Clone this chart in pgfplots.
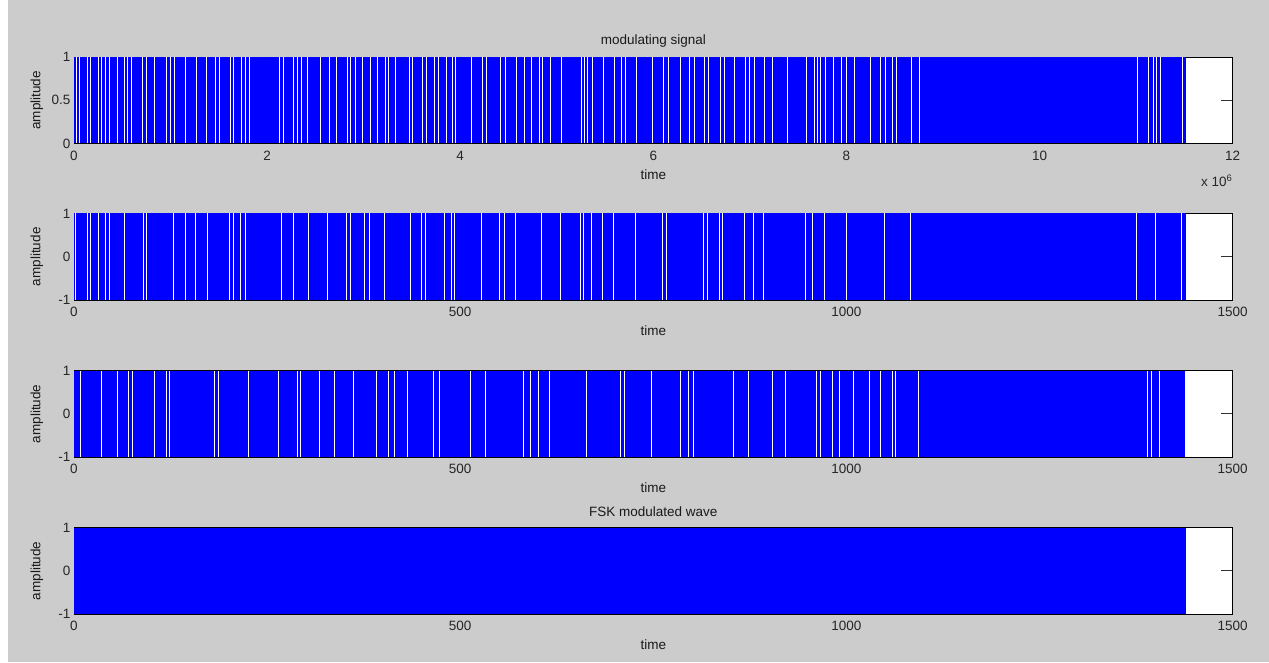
\documentclass[border=0pt]{standalone}
\usepackage{fontspec}
\setmainfont{Liberation Sans}
\usepackage{pgfplots}
\usepackage{pgfplotstable}
\pgfplotsset{compat=1.18}
\definecolor{figbg}{RGB}{204,204,204}
\definecolor{mblue}{RGB}{0,0,255}

\pgfplotstableread{
x hi
0.028 1
0.062 1
0.138 1
0.173 1
0.253 1
0.287 1
0.329 1
0.367 1
0.450 1
0.523 1
0.557 1
0.599 1
0.713 1
0.755 1
0.838 1
0.955 1
0.997 1
1.038 1
1.153 1
1.267 1
1.371 1
1.461 1
1.502 1
1.620 1
1.655 1
1.731 1
1.779 1
1.814 1
2.125 1
2.167 1
2.278 1
2.319 1
2.354 1
2.416 1
2.548 1
2.644 1
2.714 1
2.831 1
2.866 1
2.914 1
2.991 1
3.067 1
3.143 1
3.226 1
3.261 1
3.333 1
3.472 1
3.506 1
3.610 1
3.652 1
3.731 1
3.776 1
3.853 1
3.922 1
3.956 1
4.118 1
4.232 1
4.274 1
4.422 1
4.467 1
4.584 1
4.663 1
4.743 1
4.819 1
4.853 1
4.939 1
5.050 1
5.256 1
5.284 1
5.318 1
5.370 1
5.484 1
5.594 1
5.670 1
5.715 1
5.828 1
5.991 1
6.101 1
6.153 1
6.283 1
6.377 1
6.422 1
6.532 1
6.570 1
6.691 1
6.733 1
6.843 1
6.957 1
6.998 1
7.043 1
7.154 1
7.239 1
7.388 1
7.588 1
7.664 1
7.698 1
7.726 1
7.785 1
7.861 1
7.946 1
8.000 1
8.079 1
8.245 1
8.356 1
8.401 1
8.477 1
8.515 1
8.674 1
8.754 1
11.014 1
11.125 1
11.177 1
11.211 1
11.256 1
11.481 1
}\gapsA

\pgfplotstableread{
x hi lo
2.2 1 -1
17.3 1 -1
21.6 1 -1
31.5 1 -1
41.0 1 -1
45.7 1 -1
65.1 1 -1
89.7 1 -1
94.0 1 -1
129.4 1 -1
143.7 1 -1
157.9 1 -1
172.6 1 -1
201.9 1 -1
206.2 1 -1
215.7 1 -1
221.7 1 -1
269.2 1 -1
283.9 1 -1
303.3 1 -1
327.9 1 -1
352.9 1 -1
358.1 1 -1
376.2 1 -1
382.2 1 -1
402.5 1 -1
435.7 1 -1
449.9 1 -1
455.1 1 -1
480.2 1 -1
488.8 1 -1
493.1 1 -1
527.6 1 -1
551.3 1 -1
556.9 1 -1
571.6 1 -1
605.3 1 -1
629.8 1 -1
655.7 1 -1
659.2 1 -1
670.0 1 -1
684.2 1 -1
698.0 1 -1
727.3 1 -1
761.4 1 -1
767.0 1 -1
815.4 1 -1
820.1 1 -1
835.2 1 -1
839.5 1 -1
868.4 1 -1
879.2 1 -1
893.0 1 -1
947.4 1 -1
956.0 1 -1
972.0 1 -1
1000.0 1 -1
1049.6 1 -1
1083.3 1 -1
1375.3 1 -1
1399.9 1 -1
1433.6 1 -1
}\gapsB

\pgfplotstableread{
x hi lo
7.8 1 -1
35.8 1 -1
56.1 1 -1
70.3 1 -1
75.5 1 -1
104.8 1 -1
119.9 1 -1
123.4 1 -1
182.5 1 -1
187.7 1 -1
226.5 1 -1
265.3 1 -1
289.5 1 -1
293.4 1 -1
318.4 1 -1
337.8 1 -1
362.4 1 -1
391.7 1 -1
406.8 1 -1
415.4 1 -1
431.8 1 -1
465.1 1 -1
473.7 1 -1
513.4 1 -1
533.2 1 -1
581.5 1 -1
591.5 1 -1
600.9 1 -1
616.0 1 -1
663.5 1 -1
707.5 1 -1
713.1 1 -1
747.6 1 -1
785.6 1 -1
795.9 1 -1
801.6 1 -1
853.3 1 -1
873.6 1 -1
903.8 1 -1
921.5 1 -1
961.2 1 -1
966.4 1 -1
981.4 1 -1
991.4 1 -1
1009.5 1 -1
1030.2 1 -1
1044.0 1 -1
1059.1 1 -1
1063.4 1 -1
1093.6 1 -1
1389.1 1 -1
1395.5 1 -1
1405.5 1 -1
}\gapsC

\pgfplotsset{
  mat/.style={
    scale only axis, width=1158.7pt, height=86.5pt,
    enlargelimits=false,
    axis background/.style={fill=white},
    axis line style={black, line width=0.6pt},
    tick style={black!80, line width=0.6pt},
    major tick length=11.6pt,
    tick align=inside,
    font=\fontsize{13.5}{16}\selectfont,
    /pgf/number format/assume math mode=true,
    /pgf/number format/1000 sep={},
    ticklabel style={font=\fontsize{13.5}{16}\selectfont, text=black!85},
    xticklabel style={yshift=-4pt},
    xlabel style={at={([yshift=-31pt]axis description cs:0.5,0)}, anchor=center, text=black!90},
    ylabel style={at={([xshift=-37pt]axis description cs:0,0.5)}, anchor=center, text=black!90},
    title style={at={([yshift=10pt]axis description cs:0.5,1)}, anchor=center, text=black!90},
    xlabel=time, ylabel=amplitude,
    scaled x ticks=false, scaled y ticks=false,
  },
  gap/.style={white, line width=1pt, ycomb, mark=none},
}

\begin{document}
\begin{tikzpicture}[x=1pt,y=1pt]
\fill[figbg] (0,0) rectangle (1269,662);
\fill[white] (0,0) rectangle (8,662);

% 1: modulating signal
\begin{axis}[mat, at={(74pt,518.5pt)}, anchor=south west,
  xmin=0, xmax=12, ymin=0, ymax=1,
  xtick={0,2,4,6,8,10,12}, ytick={0,0.5,1},
  title={modulating signal},
  after end axis/.code={
    \node[anchor=base east, font=\fontsize{13.5}{16}\selectfont, text=black!85, inner sep=0pt]
      at ([yshift=-43.5pt]rel axis cs:1,0) {x 10\textsuperscript{6}};
  }]
\addplot[fill=mblue, draw=none] coordinates {(0,0) (0,1) (11.52,1) (11.52,0)} -- cycle;
\addplot[gap] table[x=x, y=hi] {\gapsA};
\end{axis}

% 2
\begin{axis}[mat, at={(74pt,362pt)}, anchor=south west,
  xmin=0, xmax=1500, ymin=-1, ymax=1,
  xtick={0,500,1000,1500}, ytick={-1,0,1}]
\addplot[fill=mblue, draw=none] coordinates {(0,-1) (0,1) (1440,1) (1440,-1)} -- cycle;
\addplot[gap] table[x=x, y=hi] {\gapsB};
\addplot[gap] table[x=x, y=lo] {\gapsB};
\end{axis}

% 3
\begin{axis}[mat, at={(74pt,205pt)}, anchor=south west,
  xmin=0, xmax=1500, ymin=-1, ymax=1,
  xtick={0,500,1000,1500}, ytick={-1,0,1}]
\addplot[fill=mblue, draw=none] coordinates {(0,-1) (0,1) (1438,1) (1438,-1)} -- cycle;
\addplot[gap] table[x=x, y=hi] {\gapsC};
\addplot[gap] table[x=x, y=lo] {\gapsC};
\end{axis}

% 4: FSK modulated wave
\begin{axis}[mat, at={(74pt,48pt)}, anchor=south west,
  xmin=0, xmax=1500, ymin=-1, ymax=1,
  xtick={0,500,1000,1500}, ytick={-1,0,1},
  title={FSK modulated wave}]
\addplot[fill=mblue, draw=none] coordinates {(0,-1) (0,1) (1440,1) (1440,-1)} -- cycle;
\end{axis}
\end{tikzpicture}
\end{document}
